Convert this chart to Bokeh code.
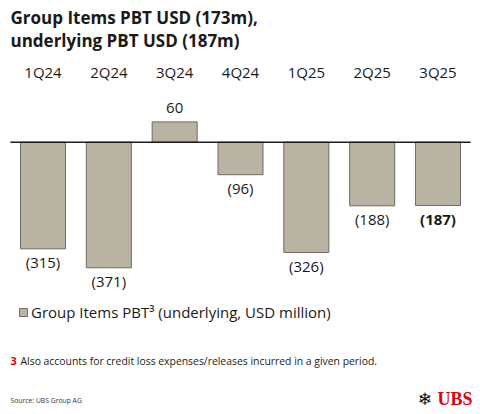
from bokeh.plotting import figure
from bokeh.models import (ColumnDataSource, FactorRange, Range1d, Label,
                          Legend, LegendItem)
from bokeh.core.properties import value
from bokeh.embed import file_html
from bokeh.resources import INLINE

# ---- data ----
quarters = ["1Q24", "2Q24", "3Q24", "4Q24", "1Q25", "2Q25", "3Q25"]
pbt_values = [-315, -371, 60, -96, -326, -188, -187]
highlight = [False, False, False, False, False, False, True]
title_lines = ["Group Items PBT USD (173m),", "underlying PBT USD (187m)"]
legend_label = "Group Items PBT³ (underlying, USD million)"
footnote_mark = "3"
footnote_text = "Also accounts for credit loss expenses/releases incurred in a given period."
source_text = "Source: UBS Group AG"

FONT = "Open Sans"
BAR = "#b9b3a3"
EDGE = "#6f6b62"
TXT = "#1a1a1a"
RED = "#e60000"

W, H = 480, 414

def fmt(v):
    return f"({abs(v)})" if v < 0 else f"{v}"

src = ColumnDataSource(dict(
    q=quarters,
    v=pbt_values,
    lab=[fmt(v) for v in pbt_values],
    style=["bold" if h else "normal" for h in highlight],
    base=["top" if v < 0 else "bottom" for v in pbt_values],
    yoff=[3 if v < 0 else -9 for v in pbt_values],
    zero=[0] * len(quarters),
))

p = figure(width=W, height=H, output_backend="svg", toolbar_location=None,
           x_range=FactorRange(factors=quarters, range_padding=0.1456,
                               range_padding_units="absolute"),
           y_range=Range1d(-804.4, 418.6),
           min_border=0, min_border_left=0, min_border_right=0,
           min_border_top=0, min_border_bottom=0)
p.axis.visible = False
p.grid.visible = False
p.outline_line_color = None
p.background_fill_color = "white"
p.border_fill_color = "white"

bars = p.vbar(x="q", top="v", bottom=0, width=0.684, source=src,
              fill_color=BAR, line_color=EDGE, line_width=1)

# zero baseline across the category band
p.segment(x0=[(quarters[0], -0.495)], x1=[(quarters[-1], 0.495)],
          y0=[0], y1=[0], line_color="#1c1c1c", line_width=1.6)

# value labels
p.text(x="q", y="v", text="lab", source=src, text_align="center",
       text_baseline="base", y_offset="yoff", text_font_style="style",
       text_font=value(FONT), text_font_size="15px", text_color=TXT)

# category labels (above the chart, anchored to the baseline)
p.text(x="q", y="zero", text="q", source=src, text_align="center",
       text_baseline="middle", y_offset=-70, text_font=value(FONT),
       text_font_size="15px", text_color=TXT)

# title
for i, t in enumerate(title_lines):
    p.add_layout(Label(x=10, y=H - 17 - 23 * i, x_units="screen", y_units="screen",
                       text=t, text_font=FONT, text_font_size="17px",
                       text_font_style="bold", text_color=TXT,
                       text_baseline="middle", text_align="left"))

# legend
legend = Legend(items=[LegendItem(label=legend_label, renderers=[bars])],
                location=(18, 92), orientation="horizontal",
                glyph_width=10, glyph_height=10, label_height=18,
                label_standoff=3, padding=0, margin=0, spacing=0,
                label_text_font=FONT, label_text_font_size="15px",
                label_text_color=TXT, border_line_alpha=0,
                background_fill_alpha=0)
p.add_layout(legend, "center")

# footnote
p.add_layout(Label(x=10, y=H - 360, x_units="screen", y_units="screen",
                   text=footnote_mark, text_font=FONT, text_font_size="11px",
                   text_font_style="bold", text_color=RED,
                   text_baseline="middle"))
p.add_layout(Label(x=20, y=H - 360, x_units="screen", y_units="screen",
                   text=footnote_text, text_font=FONT, text_font_size="10.4px",
                   text_color=TXT, text_baseline="middle"))

# source
p.add_layout(Label(x=10, y=H - 400, x_units="screen", y_units="screen",
                   text=source_text, text_font=FONT, text_font_size="6.8px",
                   text_color="#333333", text_baseline="middle"))

# logo
p.add_layout(Label(x=472, y=H - 398, x_units="screen", y_units="screen",
                   text="UBS", text_font="Liberation Serif", text_font_size="18px",
                   text_font_style="bold", text_color=RED,
                   text_baseline="middle", text_align="right"))
p.add_layout(Label(x=424, y=H - 398, x_units="screen", y_units="screen",
                   text="❄", text_font="DejaVu Sans", text_font_size="17px",
                   text_color="#111111", text_baseline="middle",
                   text_align="center"))

open("out.html", "w").write(file_html(p, INLINE))
